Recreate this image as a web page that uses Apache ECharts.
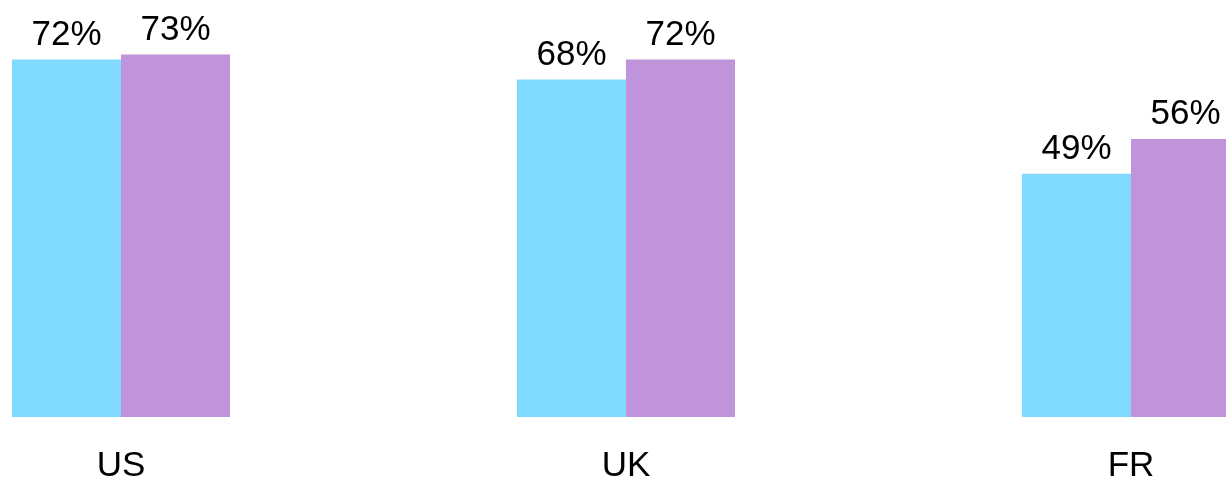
<!DOCTYPE html>
<html>
<head>
<meta charset="utf-8">
<script src="https://cdn.jsdelivr.net/npm/echarts@6/dist/echarts.min.js"></script>
<style>
    html, body { margin: 0; padding: 0; background: #fff; }
    #main { width: 1226px; height: 481px; }
</style>
</head>
<body>
<div id="main"></div>
<script>
// 数据
var countries = ["US", "UK", "FR"];
var seriesA = [72, 68, 49];
var seriesB = [73, 72, 56];

var font = "'Liberation Sans', Arial, sans-serif";

var myChart = echarts.init(document.getElementById('main'));

// 柱子顶部的百分比标签
function barLabel() {
    return {
        show: true,
        position: 'top',
        distance: 7,
        formatter: '{c}%',
        fontSize: 35,
        color: '#000',
        fontFamily: font
    };
}

var option = {
    animation: false,
    grid: {
        left: 121,
        right: 95,
        top: 0,
        bottom: 64,
        containLabel: false,
        outerBoundsMode: 'none'
    },
    xAxis: {
        type: 'category',
        data: countries,
        boundaryGap: false,
        axisLine: { show: false },
        axisTick: { show: false },
        axisLabel: {
            margin: 32,
            fontSize: 35,
            color: '#000',
            fontFamily: font
        }
    },
    yAxis: {
        type: 'value',
        min: 0,
        max: 84,
        show: false,
        splitLine: { show: false }
    },
    series: [{
        type: 'bar',
        data: seriesA,
        barWidth: 109,
        barGap: '0%',
        itemStyle: { color: '#80D9FF' },
        label: barLabel()
    }, {
        type: 'bar',
        data: seriesB,
        barWidth: 109,
        barGap: '0%',
        itemStyle: { color: '#C094DB' },
        label: barLabel()
    }]
};

myChart.setOption(option);
</script>
</body>
</html>
